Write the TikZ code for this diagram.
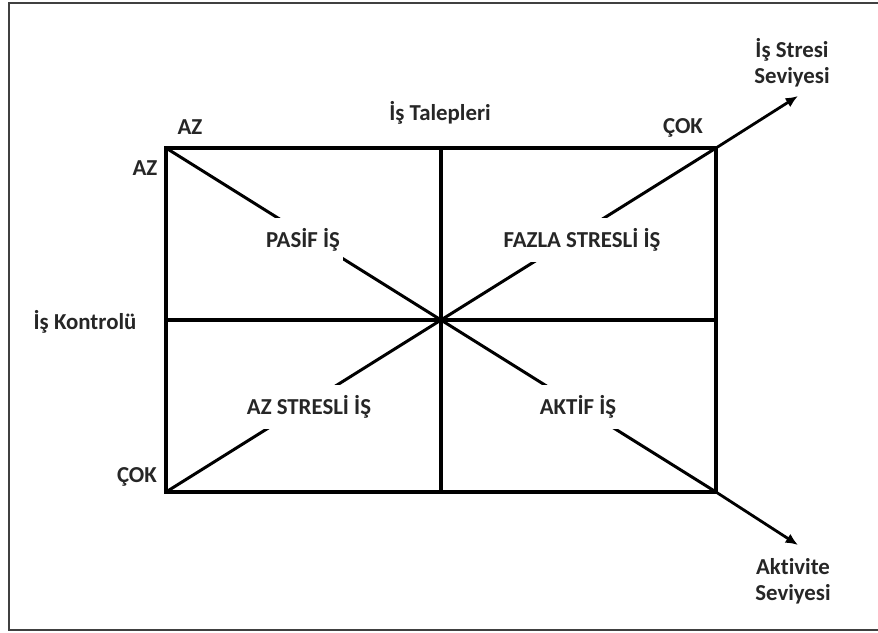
\documentclass[tikz,border=0pt]{standalone}
\usepackage{fontspec}
\setmainfont{Carlito}[Ligatures=CommonOff]
\usetikzlibrary{arrows.meta}

\begin{document}
\begin{tikzpicture}[x=0.02cm,y=-0.02cm,
  lbl/.style={font=\fontsize{13}{15}\selectfont\bfseries,text=black!85},
  quad/.style={lbl,fill=white,minimum height=0.88cm,inner xsep=2pt},
  grid line/.style={line width=2pt},
  diag/.style={line width=1.7pt},
  axis arrow/.style={line width=1.6pt,-{Latex[length=7pt,width=6pt]}}]
\useasboundingbox (0,0) rectangle (878,632);
\draw[line width=1.4pt,black!75] (880,3) -- (9,3) -- (9,630) -- (880,630);
% corners of the matrix
\coordinate (tl) at (166,148);
\coordinate (tr) at (716,148);
\coordinate (bl) at (166,492);
\coordinate (br) at (716,492);
\coordinate (tm) at (441,148);
\coordinate (bm) at (441,492);
\coordinate (ml) at (166,320);
\coordinate (mr) at (716,320);
\coordinate (c) at (441,320);
\coordinate (stres) at (798,96);
\coordinate (akt) at (798,545);
\draw[grid line] (tl) -- (tr) -- (br) -- (bl) -- cycle;
\draw[grid line] (tm) -- (bm);
\draw[grid line] (ml) -- (mr);
\draw[diag] (tl) -- (br);
\draw[diag] (bl) -- (tr);
\draw[axis arrow] (tr) -- (stres);
\draw[axis arrow] (br) -- (akt);
% quadrant names
\node[quad] (pasif) at (303,240) {PASİF İŞ};
\node[quad] (fazla) at (582,240) {FAZLA STRESLİ İŞ};
\node[quad] (azstr) at (309,407) {AZ STRESLİ İŞ};
\node[quad] (aktif) at (578,407) {AKTİF İŞ};
% axis texts
\node[lbl] (talep) at (440,113) {İş Talepleri};
\node[lbl] (azt) at (190,127) {AZ};
\node[lbl] (cokt) at (683,128) {ÇOK};
\node[lbl] (azl) at (145,168) {AZ};
\node[lbl] (kontrol) at (85,322) {İş Kontrolü};
\node[lbl] (cokl) at (137,477) {ÇOK};
\node[lbl,align=center] (stresl) at (792,63) {İş Stresi\\Seviyesi};
\node[lbl,align=center] (aktl) at (793,581) {Aktivite\\Seviyesi};
\end{tikzpicture}
\end{document}
